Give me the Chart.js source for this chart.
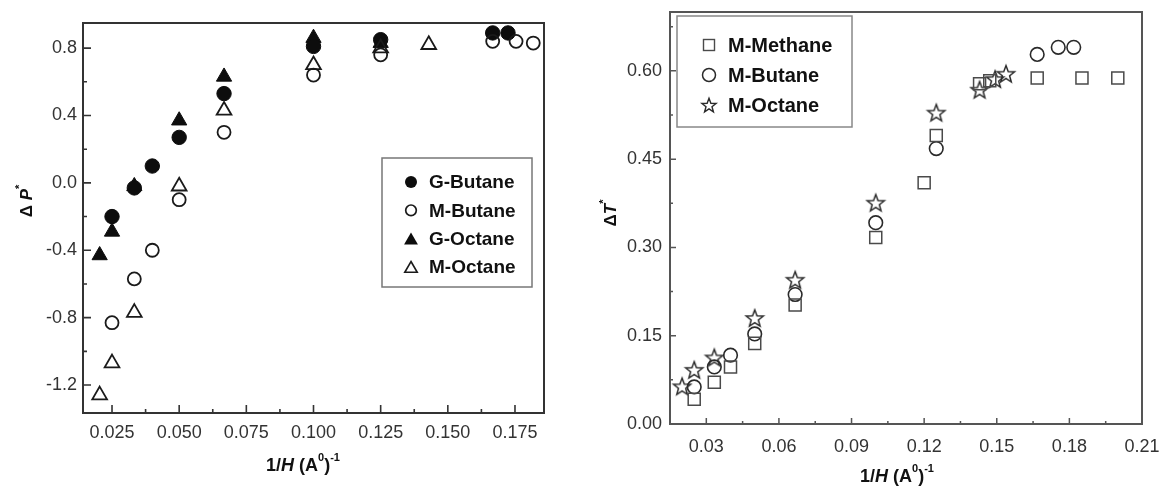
<!DOCTYPE html>
<html>
<head>
<meta charset="utf-8">
<title>ΔP* and ΔT* vs 1/H</title>
<script src="https://cdn.jsdelivr.net/npm/chart.js@4.4.1/dist/chart.umd.min.js"></script>
<style>
  html, body { margin: 0; padding: 0; background: #fff; }
  #wrap { position: relative; width: 1164px; height: 494px; overflow: hidden; }
  .panel { position: absolute; top: 0; height: 494px; }
  #panel-p { left: 0; width: 580px; }
  #panel-t { left: 580px; width: 584px; }
</style>
</head>
<body>
<div id="wrap">
  <div class="panel" id="panel-p"><canvas id="chartP" width="580" height="494"></canvas></div>
  <div class="panel" id="panel-t"><canvas id="chartT" width="584" height="494"></canvas></div>
</div>
<script>
// --- ΔP* panel ---
const gButaneX = [0.025, 0.0333, 0.04, 0.05, 0.0667, 0.1, 0.125, 0.1667, 0.1724];
const gButaneY = [-0.20, -0.03, 0.10, 0.27, 0.53, 0.81, 0.85, 0.89, 0.89];
const mButaneX = [0.025, 0.0333, 0.04, 0.05, 0.0667, 0.1, 0.125, 0.1667, 0.1754, 0.1818];
const mButaneY = [-0.83, -0.57, -0.40, -0.10, 0.30, 0.64, 0.76, 0.84, 0.84, 0.83];
const gOctaneX = [0.0204, 0.025, 0.0333, 0.05, 0.0667, 0.1, 0.125];
const gOctaneY = [-0.43, -0.29, -0.02, 0.37, 0.63, 0.86, 0.83];
const mOctaneX = [0.0204, 0.025, 0.0333, 0.05, 0.0667, 0.1, 0.125, 0.1429];
const mOctaneY = [-1.26, -1.07, -0.77, -0.02, 0.43, 0.70, 0.80, 0.82];
const pTicksX = [0.025, 0.05, 0.075, 0.1, 0.125, 0.15, 0.175];
const pTicksY = [-1.2, -0.8, -0.4, 0.0, 0.4, 0.8];

// --- ΔT* panel ---
const tMethaneX = [0.025, 0.0333, 0.04, 0.05, 0.0667, 0.1, 0.12, 0.125, 0.1429, 0.1471, 0.1667, 0.1852, 0.2];
const tMethaneY = [0.042, 0.071, 0.097, 0.137, 0.202, 0.317, 0.41, 0.49, 0.578, 0.583, 0.588, 0.588, 0.588];
const tButaneX = [0.025, 0.0333, 0.04, 0.05, 0.0667, 0.1, 0.125, 0.1667, 0.1754, 0.1818];
const tButaneY = [0.063, 0.097, 0.117, 0.153, 0.22, 0.342, 0.468, 0.628, 0.64, 0.64];
const tOctaneX = [0.02, 0.025, 0.0333, 0.05, 0.0667, 0.1, 0.125, 0.1429, 0.1493, 0.1538];
const tOctaneY = [0.064, 0.092, 0.113, 0.18, 0.245, 0.376, 0.529, 0.568, 0.586, 0.595];
const tTicksX = [0.03, 0.06, 0.09, 0.12, 0.15, 0.18, 0.21];
const tTicksY = [0.0, 0.15, 0.30, 0.45, 0.60];

const FONT = '"Liberation Sans", Arial, Helvetica, sans-serif';
const pts = (xs, ys) => xs.map((x, i) => ({ x, y: ys[i] }));

// open five-point star, used both as a point style and in the legend
function starPath(ctx, cx, cy, r) {
  const ri = r * 0.42;
  ctx.beginPath();
  for (let i = 0; i < 10; i++) {
    const rr = i % 2 ? ri : r;
    const a = -Math.PI / 2 + i * Math.PI / 5;
    const px = cx + Math.cos(a) * rr, py = cy + Math.sin(a) * rr;
    i ? ctx.lineTo(px, py) : ctx.moveTo(px, py);
  }
  ctx.closePath();
}
function starImage(r, color, lw) {
  const c = document.createElement('canvas');
  c.width = c.height = Math.ceil(r * 2 + 4);
  const g = c.getContext('2d');
  g.strokeStyle = color; g.lineWidth = lw; g.lineJoin = 'miter';
  starPath(g, c.width / 2, c.height / 2 + 0.8, r);
  g.stroke();
  return c;
}
const starPoint = starImage(9, '#2a2a2a', 1.5);

// legend symbols
function drawMark(ctx, kind, x, y, s, color, lw) {
  ctx.save();
  ctx.fillStyle = color; ctx.strokeStyle = color; ctx.lineWidth = lw;
  ctx.beginPath();
  if (kind === 'disc' || kind === 'ring') {
    ctx.arc(x, y, s, 0, Math.PI * 2);
    kind === 'disc' ? ctx.fill() : ctx.stroke();
  } else if (kind === 'tri' || kind === 'triOpen') {
    for (let i = 0; i < 3; i++) {
      const a = i * 2 * Math.PI / 3;
      const px = x + Math.sin(a) * s, py = y + s * 0.25 - Math.cos(a) * s;
      i ? ctx.lineTo(px, py) : ctx.moveTo(px, py);
    }
    ctx.closePath();
    kind === 'tri' ? ctx.fill() : ctx.stroke();
  } else if (kind === 'square') {
    ctx.strokeRect(x - s, y - s, 2 * s, 2 * s);
  } else if (kind === 'star') {
    starPath(ctx, x, y + 0.8, s);
    ctx.stroke();
  }
  ctx.restore();
}

function drawRich(ctx, parts, cx, cy, size, rotate, color) {
  ctx.save();
  ctx.translate(cx, cy);
  if (rotate) ctx.rotate(-Math.PI / 2);
  const fontOf = p => (p.it ? 'italic ' : '') + 'bold ' + (p.sup ? Math.round(size * 0.62) : size) + 'px ' + FONT;
  const widths = parts.map(p => { ctx.font = fontOf(p); return ctx.measureText(p.t).width; });
  let x = -widths.reduce((a, b) => a + b, 0) / 2;
  ctx.textBaseline = 'middle'; ctx.textAlign = 'left'; ctx.fillStyle = color;
  parts.forEach((p, i) => {
    ctx.font = fontOf(p);
    ctx.fillText(p.t, x, p.sup ? -size * 0.42 : 0);
    x += widths[i];
  });
  ctx.restore();
}

// frame, inward major/minor ticks, axis titles and boxed legend
const decor = {
  id: 'decor',
  afterDraw(chart, args, o) {
    const { ctx, chartArea: a, scales } = chart;
    ctx.save();
    ctx.strokeStyle = o.frameColor;
    ctx.lineWidth = o.frameWidth;
    ctx.strokeRect(a.left, a.top, a.right - a.left, a.bottom - a.top);

    const tickSet = (scale) => {
      const v = scale.ticks.map(t => t.value);
      const half = (v[1] - v[0]) / 2;
      const minor = [];
      for (let i = -1; i < v.length; i++) {
        const m = (i < 0 ? v[0] : v[i]) + (i < 0 ? -half : half);
        if (m > scale.min + 1e-9 && m < scale.max - 1e-9) minor.push(m);
      }
      return { major: v, minor };
    };
    ctx.lineWidth = o.tickWidth;
    const xs = tickSet(scales.x), ys = tickSet(scales.y);
    ctx.beginPath();
    xs.major.forEach(v => { const p = scales.x.getPixelForValue(v); ctx.moveTo(p, a.bottom); ctx.lineTo(p, a.bottom - o.majorLen); });
    xs.minor.forEach(v => { const p = scales.x.getPixelForValue(v); ctx.moveTo(p, a.bottom); ctx.lineTo(p, a.bottom - o.minorLen); });
    ys.major.forEach(v => { const p = scales.y.getPixelForValue(v); ctx.moveTo(a.left, p); ctx.lineTo(a.left + o.majorLen, p); });
    ys.minor.forEach(v => { const p = scales.y.getPixelForValue(v); ctx.moveTo(a.left, p); ctx.lineTo(a.left + o.minorLen, p); });
    ctx.stroke();
    ctx.restore();

    drawRich(ctx, o.xTitle.parts, o.xTitle.x, o.xTitle.y, o.xTitle.size, false, '#111');
    drawRich(ctx, o.yTitle.parts, o.yTitle.x, o.yTitle.y, o.yTitle.size, true, '#111');

    const L = o.legend;
    ctx.save();
    ctx.strokeStyle = L.border; ctx.lineWidth = 1.5;
    ctx.strokeRect(L.x, L.y, L.w, L.h);
    ctx.font = 'bold ' + L.size + 'px ' + FONT;
    ctx.textBaseline = 'middle'; ctx.fillStyle = '#111';
    L.items.forEach((it, i) => {
      const y = L.y + L.first + i * L.row;
      drawMark(ctx, it.kind, L.x + L.symX, y, it.s, it.color, it.lw);
      ctx.fillText(it.label, L.x + L.textX, y + 1);
    });
    ctx.restore();
  }
};

function linearAxis(min, max, ticks, digits, pad, size) {
  return {
    type: 'linear', min, max,
    grid: { display: false, drawTicks: false },
    border: { display: false },
    afterBuildTicks: s => { s.ticks = ticks.map(v => ({ value: v })); },
    afterFit: s => {
      if (size.w) s.width = size.w;
      if (size.h) s.height = size.h;
      // plot box is fixed by layout padding, so no room is reserved for label overhang
      s.paddingTop = s.paddingBottom = s.paddingLeft = s.paddingRight = 0;
    },
    ticks: {
      padding: pad,
      maxRotation: 0,
      autoSkip: false,
      color: '#333',
      font: { family: FONT, size: 18 },
      callback: v => Number(v).toFixed(digits)
    }
  };
}

const xTitleParts = [{ t: '1/' }, { t: 'H', it: true }, { t: ' (A' }, { t: '0', sup: true }, { t: ')' }, { t: '-1', sup: true }];

new Chart(document.getElementById('chartP'), {
  type: 'scatter',
  data: {
    datasets: [
      { label: 'M-Butane', data: pts(mButaneX, mButaneY), pointStyle: 'circle', pointRadius: 6.5,
        backgroundColor: 'rgba(0,0,0,0)', borderColor: '#1a1a1a', borderWidth: 1.8 },
      { label: 'M-Octane', data: pts(mOctaneX, mOctaneY), pointStyle: 'triangle', pointRadius: 8.5,
        backgroundColor: 'rgba(0,0,0,0)', borderColor: '#1a1a1a', borderWidth: 1.8 },
      { label: 'G-Butane', data: pts(gButaneX, gButaneY), pointStyle: 'circle', pointRadius: 7.2,
        backgroundColor: '#0d0d0d', borderColor: '#0d0d0d', borderWidth: 1 },
      { label: 'G-Octane', data: pts(gOctaneX, gOctaneY), pointStyle: 'triangle', pointRadius: 8.8,
        backgroundColor: '#0d0d0d', borderColor: '#0d0d0d', borderWidth: 1 }
    ]
  },
  options: {
    responsive: false,
    animation: false,
    layout: { padding: { top: 23, right: 36, bottom: 0, left: 0 } },
    scales: {
      x: linearAxis(0.0142, 0.1858, pTicksX, 3, 9, { h: 81 }),
      y: linearAxis(-1.366, 0.949, pTicksY, 1, 6, { w: 83 })
    },
    plugins: {
      legend: { display: false },
      tooltip: { enabled: false },
      decor: {
        frameColor: '#333', frameWidth: 2, tickWidth: 1.6, majorLen: 8, minorLen: 4,
        xTitle: { parts: xTitleParts, x: 303, y: 466, size: 18 },
        yTitle: { parts: [{ t: 'Δ ' }, { t: 'P', it: true }, { t: '*', sup: true }], x: 27, y: 201, size: 17 },
        legend: {
          x: 382, y: 158, w: 150, h: 129, first: 24, row: 28.3, symX: 29, textX: 47, size: 19, border: '#777',
          items: [
            { label: 'G-Butane', kind: 'disc', s: 6, color: '#0d0d0d', lw: 1 },
            { label: 'M-Butane', kind: 'ring', s: 5.3, color: '#1a1a1a', lw: 1.7 },
            { label: 'G-Octane', kind: 'tri', s: 8, color: '#0d0d0d', lw: 1 },
            { label: 'M-Octane', kind: 'triOpen', s: 7.2, color: '#1a1a1a', lw: 1.6 }
          ]
        }
      }
    }
  },
  plugins: [decor]
});

new Chart(document.getElementById('chartT'), {
  type: 'scatter',
  data: {
    datasets: [
      { label: 'M-Methane', data: pts(tMethaneX, tMethaneY), pointStyle: 'rect', pointRadius: 8.5,
        backgroundColor: 'rgba(0,0,0,0)', borderColor: '#4a4a4a', borderWidth: 1.5 },
      { label: 'M-Butane', data: pts(tButaneX, tButaneY), pointStyle: 'circle', pointRadius: 6.8,
        backgroundColor: 'rgba(0,0,0,0)', borderColor: '#2a2a2a', borderWidth: 1.6 },
      { label: 'M-Octane', data: pts(tOctaneX, tOctaneY), pointStyle: starPoint, pointRadius: 9 }
    ]
  },
  options: {
    responsive: false,
    animation: false,
    layout: { padding: { top: 12, right: 22, bottom: 0, left: 0 } },
    scales: {
      x: linearAxis(0.015, 0.21, tTicksX, 2, 12, { h: 70 }),
      y: linearAxis(0, 0.70, tTicksY, 2, 8, { w: 90 })
    },
    plugins: {
      legend: { display: false },
      tooltip: { enabled: false },
      decor: {
        frameColor: '#555', frameWidth: 2, tickWidth: 1.5, majorLen: 6, minorLen: 3,
        xTitle: { parts: xTitleParts, x: 317, y: 477, size: 18 },
        yTitle: { parts: [{ t: 'Δ' }, { t: 'T', it: true }, { t: '*', sup: true }], x: 31, y: 213, size: 17 },
        legend: {
          x: 97, y: 16, w: 175, h: 111, first: 29, row: 30, symX: 32, textX: 51, size: 20, border: '#888',
          items: [
            { label: 'M-Methane', kind: 'square', s: 5.5, color: '#4a4a4a', lw: 1.4 },
            { label: 'M-Butane', kind: 'ring', s: 6.5, color: '#2a2a2a', lw: 1.5 },
            { label: 'M-Octane', kind: 'star', s: 7.5, color: '#2a2a2a', lw: 1.4 }
          ]
        }
      }
    }
  },
  plugins: [decor]
});
</script>
</body>
</html>
